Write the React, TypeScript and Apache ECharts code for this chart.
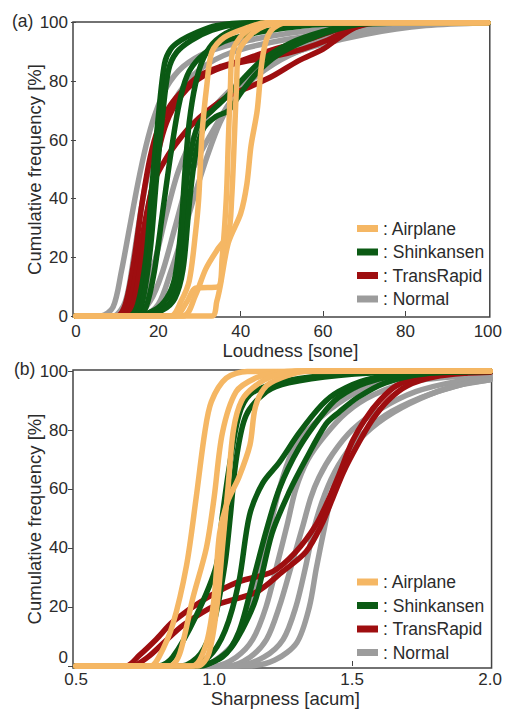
import React, { useEffect, useRef } from "react";
import * as echarts from "echarts";

// ---------- DATA ----------
const CATEGORIES = ["Airplane", "Shinkansen", "TransRapid", "Normal"];
const LOUD_TICKS = [0, 20, 40, 60, 80, 100];
const SHARP_TICKS = [0.5, 1.0, 1.5, 2.0];
const FREQ_TICKS = [0, 20, 40, 60, 80, 100];

// (a) Loudness [sone] vs cumulative frequency [%]
const loudAirplane = [
  [[0,0],[23,0],[25.5,5],[27.5,12],[29,28],[29.8,40],[30.6,62],[31.8,79],[33,90],[36,95],[42,98.5],[46,100],[100,100]],
  [[0,0],[26,0],[29,7],[31.5,16],[34.5,23],[37,28],[37.8,40],[38.5,62],[39,79],[39.5,90],[42.5,96],[46,99],[50,100],[100,100]],
  [[0,0],[33,0],[34.2,5],[35,10],[37,25],[40,35],[41.5,45],[42.5,58],[44,70],[45,85],[46,93],[47.5,97.5],[51,100],[100,100]],
  [[0,0],[24,0],[27,5],[29,9.5],[34.5,10],[35.5,20],[36.5,40],[37,60],[37.5,78],[38,90],[40.5,96],[45,99.5],[50,100],[100,100]],
];
const loudShinkansen = [
  [[0,0],[13,0],[15,4],[17,20],[18.5,45],[20,68],[21.5,86],[23,91],[25.5,94],[29,96.5],[34,99],[42,100],[100,100]],
  [[0,0],[14,0],[16,4],[18,22],[19.5,46],[21,68],[22.5,84],[24.5,90],[28,94],[33,97.5],[39,99.5],[48,100],[100,100]],
  [[0,0],[15,0],[17,3],[19,15],[21,35],[23,55],[25,72],[27,82],[30,88],[35,93],[42,96],[50,98],[60,99.5],[100,100]],
  [[0,0],[14,0],[19,2],[22,6],[24,13],[25.5,30],[26.5,50],[27.5,66],[29,79],[31,88],[34,94],[39,98],[47,100],[100,100]],
  [[0,0],[15,0],[20,1.5],[23,5],[25,14],[26,30],[27,48],[28.5,60],[30,66],[33,70],[36,74],[40,80],[45,87],[52,93],[60,97],[68,99.5],[100,100]],
  [[0,0],[16,0],[21,2],[24,6],[26,16],[27.5,38],[29,55],[31,64],[34,68],[37,70],[40,76],[44,83],[49,89],[56,94],[64,98],[72,100],[100,100]],
];
const loudTransRapid = [
  [[0,0],[10,0],[12,4],[14,18],[16,38],[18,54],[20,64],[23,72],[26,77],[30,82],[35,85],[40,87],[46,90],[52,92.5],[58,95],[63,97.5],[68,99.5],[75,100],[100,100]],
  [[0,0],[11,0],[13,4],[15,18],[17,34],[19,46],[22,54],[25,60],[28,65],[32,70],[37,75],[42,78],[48,82],[54,87],[60,91],[64,95],[68,98.5],[74,100],[100,100]],
  [[0,0],[12,0],[14,5],[16,20],[18,40],[20,56],[22,66],[25,74],[29,80],[34,84],[40,86.5],[48,88.5],[55,91],[61,94],[66,97.5],[72,100],[100,100]],
];
const loudNormal = [
  [[0,0],[6,0],[9,3],[11,15],[13,30],[15,45],[17,58],[19,68],[22,78],[26,85],[32,90],[42,94],[55,97],[70,99],[85,100],[100,100]],
  [[0,0],[9,0],[12,5],[14,20],[16,38],[18,52],[21,65],[25,76],[30,84],[38,90],[50,94],[65,97],[80,99.5],[100,100]],
  [[0,0],[14,0],[18,5],[21,15],[24,30],[27,45],[30,55],[34,65],[38,74],[44,82],[52,89],[62,94],[75,98],[88,100],[100,100]],
  [[0,0],[12,0],[16,5],[19,18],[22,35],[25,50],[29,62],[34,72],[40,80],[48,87],[58,92],[70,96],[85,99],[100,100]],
  [[0,0],[16,0],[20,4],[23,15],[26,28],[29,42],[32,55],[35,66],[39,76],[45,85],[55,92],[68,97],[85,100],[100,100]],
];

// (b) Sharpness [acum] vs cumulative frequency [%]
const sharpAirplane = [
  [[0.5,0],[0.77,0],[0.8,3],[0.85,14],[0.9,34],[0.935,57],[0.966,79],[0.99,89.6],[1.044,97.6],[1.12,99.8],[2,100]],
  [[0.5,0],[0.84,0],[0.875,4],[0.923,23],[0.972,40],[1.0,57],[1.03,79],[1.08,93],[1.15,97.6],[1.23,99.5],[1.3,100],[2,100]],
  [[0.5,0],[0.92,0],[0.97,7],[1.0,23],[1.02,45],[1.05,56],[1.09,64],[1.13,75],[1.15,88],[1.19,95],[1.27,98.6],[1.35,100],[2,100]],
  [[0.5,0],[0.94,0],[0.98,4],[1.01,20],[1.03,40],[1.05,60],[1.07,80],[1.1,90],[1.15,95],[1.22,98.5],[1.32,100],[2,100]],
];
const sharpShinkansen = [
  [[0.5,0],[0.8,0],[0.85,3],[0.935,17],[1.008,34],[1.03,51],[1.056,68],[1.09,85],[1.13,92],[1.21,95.5],[1.35,98],[1.55,99.5],[2,100]],
  [[0.5,0],[0.88,0],[0.95,4],[1.0,15],[1.04,35],[1.06,52],[1.08,70],[1.116,85],[1.19,93],[1.27,96],[1.45,98.5],[1.7,99.8],[2,100]],
  [[0.5,0],[0.9,0],[0.98,3],[1.04,12],[1.09,28.6],[1.128,51],[1.176,62],[1.236,69],[1.308,79],[1.39,88.5],[1.45,93],[1.55,97],[1.7,99.3],[2,100]],
  [[0.5,0],[0.95,0],[1.05,5],[1.1,12],[1.152,23],[1.21,45],[1.272,59],[1.332,70],[1.405,82],[1.452,86],[1.52,91],[1.62,96],[1.76,99],[2,99.8]],
  [[0.5,0],[0.92,0],[1.03,3],[1.09,11.6],[1.14,28.6],[1.188,45.5],[1.236,60],[1.308,74],[1.39,85],[1.45,91],[1.55,96],[1.7,99],[2,100]],
];
const sharpTransRapid = [
  [[0.5,0],[0.68,0],[0.73,3.7],[0.79,9],[0.851,15],[0.972,23],[1.09,28.6],[1.212,32],[1.296,38.7],[1.37,48],[1.417,57],[1.453,65],[1.5,76],[1.55,84],[1.6,90],[1.66,95],[1.75,98],[1.88,99.5],[2,100]],
  [[0.5,0],[0.7,0],[0.76,3],[0.83,9],[0.89,14],[1.008,20.7],[1.152,25],[1.248,32],[1.333,38.7],[1.39,48],[1.43,57],[1.47,66],[1.52,75],[1.57,83],[1.63,90],[1.7,95],[1.8,98],[1.92,99.3],[2,99.6]],
];
const sharpNormal = [
  [[0.5,0],[0.95,0],[1.02,3],[1.08,9],[1.128,20],[1.17,35],[1.21,50],[1.236,60],[1.28,72],[1.34,80],[1.42,87],[1.52,93],[1.65,97],[1.8,99],[2,99.6]],
  [[0.5,0],[1.0,0],[1.08,3],[1.14,9],[1.188,20],[1.23,35],[1.265,48],[1.296,60],[1.34,70],[1.4,78],[1.48,86],[1.58,92],[1.72,96.5],[2,98.8]],
  [[0.5,0],[1.05,0],[1.13,3],[1.19,9],[1.236,20],[1.28,34],[1.32,47],[1.35,57],[1.38,64],[1.43,72],[1.5,80],[1.6,87],[1.73,93],[1.88,96.5],[2,97.8]],
  [[0.5,0],[1.08,0],[1.18,3],[1.25,9],[1.296,20],[1.33,33],[1.36,46],[1.4,58],[1.45,68],[1.52,77],[1.62,85],[1.75,91],[1.88,95],[2,97]],
  [[0.5,0],[1.12,0],[1.22,2],[1.3,8],[1.345,20],[1.37,33],[1.4,47],[1.43,60],[1.47,70],[1.55,79],[1.65,86],[1.78,92],[1.9,95.5],[2,97]],
];

// ---------- STYLE ----------
const COLOR: Record<string, string> = {
  Airplane: "#F5B764",
  Shinkansen: "#0B5A14",
  TransRapid: "#9E0E10",
  Normal: "#9C9C9C",
};
const FONT = "'Liberation Sans', Arial, sans-serif";
const TEXT = "#2b2b2b";
const FRAME = "#444";

export default function App() {
  const ref = useRef<HTMLDivElement>(null);

  useEffect(() => {
    document.body.style.margin = "0";
    if (!ref.current) return;
    const chart = echarts.init(ref.current, undefined, { renderer: "svg" });

    const panels = [
      { Airplane: loudAirplane, Shinkansen: loudShinkansen, TransRapid: loudTransRapid, Normal: loudNormal },
      { Airplane: sharpAirplane, Shinkansen: sharpShinkansen, TransRapid: sharpTransRapid, Normal: sharpNormal },
    ];
    const drawOrder = ["Normal", "TransRapid", "Shinkansen", "Airplane"];
    const series: any[] = [];
    panels.forEach((panel: any, gi) => {
      drawOrder.forEach((cat) => {
        panel[cat].forEach((curve: number[][]) => {
          series.push({
            type: "line",
            name: cat,
            xAxisIndex: gi,
            yAxisIndex: gi,
            data: curve,
            showSymbol: false,
            symbol: "none",
            smooth: 0.3,
            silent: true,
            itemStyle: { color: COLOR[cat] },
            lineStyle: { color: COLOR[cat], width: 5.5, cap: "round", join: "round" },
          });
        });
      });
    });

    const tickLabel = { fontSize: 17, color: TEXT, fontFamily: FONT };
    const nameStyle = { fontSize: 18.5, color: TEXT, fontFamily: FONT };

    const legendBase = {
      orient: "vertical",
      left: 357,
      padding: 0,
      itemWidth: 21,
      itemHeight: 7,
      itemGap: 5.5,
      selectedMode: false,
      icon: "rect",
      formatter: ": {name}",
      textStyle: { fontSize: 17.5, color: TEXT, fontFamily: FONT },
      data: CATEGORIES,
    };

    const yAxisBase = (gi: number, min: number, max: number, liftZero: boolean) => ({
      type: "value", gridIndex: gi, min, max,
      axisLine: { show: false },
      axisTick: { show: true, inside: false, length: 5, customValues: FREQ_TICKS, lineStyle: { color: FRAME } },
      axisLabel: {
        ...tickLabel, margin: 5, customValues: FREQ_TICKS,
        formatter: (v: number) => (liftZero && v === 0 ? "{lift|0}" : String(v)),
        rich: { lift: { ...tickLabel, padding: [0, 0, 16, 0] } },
      },
      splitLine: { show: false },
      name: "Cumulative frequency [%]", nameLocation: "middle", nameGap: 29,
      nameMoveOverlap: false, nameTextStyle: nameStyle,
    });

    chart.setOption({
      animation: false,
      backgroundColor: "#fff",
      grid: [
        { left: 73, top: 22, width: 420, height: 295, show: true, borderColor: FRAME, borderWidth: 1.5, backgroundColor: "transparent" },
        { left: 73, top: 370, width: 420, height: 298, show: true, borderColor: FRAME, borderWidth: 1.5, backgroundColor: "transparent" },
      ],
      xAxis: [
        {
          type: "value", gridIndex: 0, min: -0.72, max: 100.48,
          axisLine: { show: false },
          axisTick: { show: true, inside: true, length: 5, customValues: [20, 40, 60, 80], lineStyle: { color: FRAME } },
          axisLabel: { ...tickLabel, margin: 6, customValues: LOUD_TICKS },
          splitLine: { show: false },
          name: "Loudness [sone]", nameLocation: "middle", nameGap: 23.5, nameMoveOverlap: false,
          nameTextStyle: { ...nameStyle, padding: [0, 0, 0, 18] },
        },
        {
          type: "value", gridIndex: 1, min: 0.489, max: 2.005,
          axisLine: { show: false },
          axisTick: { show: true, inside: true, length: 5, customValues: [1.0, 1.5], lineStyle: { color: FRAME } },
          axisLabel: { ...tickLabel, margin: 3, customValues: SHARP_TICKS, formatter: (v: number) => v.toFixed(1) },
          splitLine: { show: false },
          name: "Sharpness [acum]", nameLocation: "middle", nameGap: 20.5, nameMoveOverlap: false,
          nameTextStyle: { ...nameStyle, padding: [0, 0, 0, 6] },
        },
      ],
      yAxis: [yAxisBase(0, -0.34, 100.24, false), yAxisBase(1, -0.68, 100.34, true)],
      legend: [
        { ...legendBase, top: 219.5 },
        { ...legendBase, top: 573 },
      ],
      graphic: [
        { type: "text", left: 12, top: 12, style: { text: "(a)", fontSize: 17.5, fill: TEXT, fontFamily: FONT } },
        { type: "text", left: 14, top: 360, style: { text: "(b)", fontSize: 17.5, fill: TEXT, fontFamily: FONT } },
      ],
      series,
    });

    return () => chart.dispose();
  }, []);

  return <div ref={ref} style={{ width: 505, height: 711 }} />;
}
